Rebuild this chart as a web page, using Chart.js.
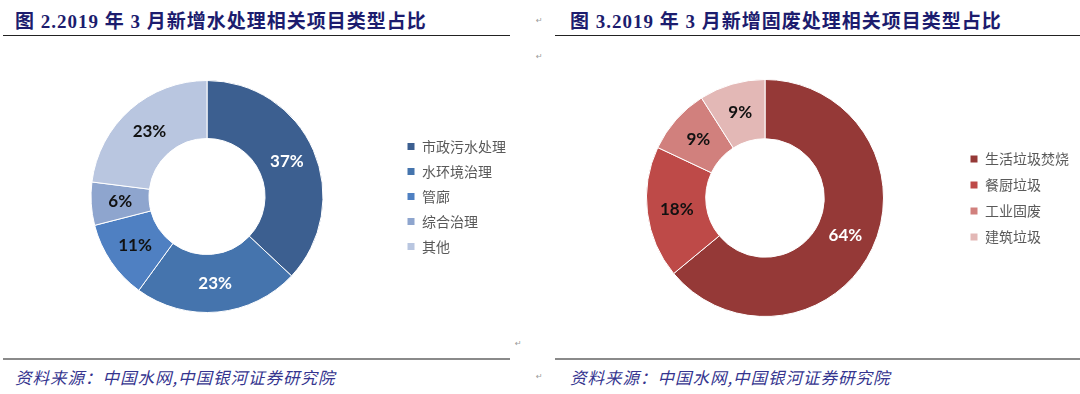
<!DOCTYPE html>
<html>
<head>
<meta charset="utf-8">
<script src="https://cdn.jsdelivr.net/npm/chart.js@4.4.0/dist/chart.umd.min.js"></script>
<style>
  body { margin: 0; width: 1080px; height: 394px; background: #fff; position: relative; overflow: hidden; }
  .titulo { position: absolute; top: 6px; font-family: "Liberation Serif", "Noto Sans CJK SC", serif; font-weight: bold;
            font-size: 19px; color: #1c1c6e; white-space: nowrap; letter-spacing: 1px; }
  .linea { position: absolute; height: 0; }
  .fuente { position: absolute; top: 365px; font-family: "Noto Sans CJK SC", sans-serif; font-style: italic;
            font-size: 16.5px; color: #35358f; white-space: nowrap; letter-spacing: 1px; }
  .marca { position: absolute; font-family: "DejaVu Sans", sans-serif; font-size: 8px; color: #9a9a9a; }
  .caja { position: absolute; top: 40px; height: 300px; }
</style>
</head>
<body>
<div class="titulo" style="left:15px">图 2.2019 年 3 月新增水处理相关项目类型占比</div>
<div class="titulo" style="left:570px">图 3.2019 年 3 月新增固废处理相关项目类型占比</div>
<div class="linea" style="left:3px; width:507px; top:35px; border-top:1.5px solid #222"></div>
<div class="linea" style="left:555px; width:525px; top:35px; border-top:1.5px solid #222"></div>
<div class="linea" style="left:3px; width:507px; top:358px; border-top:2px solid #8a8a8a"></div>
<div class="linea" style="left:555px; width:525px; top:358px; border-top:2px solid #8a8a8a"></div>
<div class="fuente" style="left:15px">资料来源：中国水网,中国银河证券研究院</div>
<div class="fuente" style="left:570px">资料来源：中国水网,中国银河证券研究院</div>
<div class="marca" style="left:536px; top:16px">↵</div>
<div class="marca" style="left:536px; top:52px">↵</div>
<div class="marca" style="left:515px; top:339px">↵</div>
<div class="marca" style="left:536px; top:372px">↵</div>

<div class="caja" style="left:0px; width:530px"><canvas id="graficoAgua"></canvas></div>
<div class="caja" style="left:540px; width:540px"><canvas id="graficoResiduos"></canvas></div>

<script>
// datos del grafico de agua (fig. 2)
const categoriasAgua = ['市政污水处理', '水环境治理', '管廊', '综合治理', '其他'];
const valoresAgua = [37, 23, 11, 6, 23];
const coloresAgua = ['#3c5f90', '#4574ad', '#4f80c2', '#8ea5ce', '#b9c6e0'];
const textoAgua = ['#ffffff', '#ffffff', '#111111', '#111111', '#111111'];

// datos del grafico de residuos solidos (fig. 3)
const categoriasResiduos = ['生活垃圾焚烧', '餐厨垃圾', '工业固废', '建筑垃圾'];
const valoresResiduos = [64, 18, 9, 9];
const coloresResiduos = ['#953937', '#be4a48', '#d1807d', '#e3b8b6'];
const textoResiduos = ['#ffffff', '#111111', '#111111', '#111111'];

// plugin sencillo para escribir los porcentajes dentro de cada sector
const etiquetasPorcentaje = {
    id: 'etiquetasPorcentaje',
    afterDatasetsDraw(chart) {
        const ctx = chart.ctx;
        const meta = chart.getDatasetMeta(0);
        const colores = chart.options.plugins.etiquetasPorcentaje.colores;
        ctx.save();
        ctx.font = 'bold 17px Lato, "Open Sans", sans-serif';
        ctx.textAlign = 'center';
        ctx.textBaseline = 'middle';
        meta.data.forEach((arco, i) => {
            const pos = arco.tooltipPosition();
            ctx.fillStyle = colores[i];
            ctx.fillText(chart.data.datasets[0].data[i] + '%', pos.x, pos.y);
        });
        ctx.restore();
    }
};

function crearDona(idCanvas, etiquetas, valores, colores, coloresTexto, relleno, separacion) {
    const ctx = document.getElementById(idCanvas).getContext('2d');
    return new Chart(ctx, {
        type: 'doughnut',
        data: {
            labels: etiquetas,
            datasets: [{
                data: valores,
                backgroundColor: colores,
                borderColor: '#ffffff',
                borderWidth: 1,
                hoverOffset: 0
            }]
        },
        options: {
            responsive: true,
            maintainAspectRatio: false,
            animation: false,
            events: [],
            cutout: '50%',
            layout: { padding: relleno },
            plugins: {
                tooltip: { enabled: false },
                etiquetasPorcentaje: { colores: coloresTexto },
                legend: {
                    position: 'right',
                    labels: {
                        boxWidth: 8,
                        boxHeight: 8,
                        padding: separacion,
                        color: '#595959',
                        font: { family: '"Noto Sans CJK SC", sans-serif', size: 14 }
                    }
                }
            }
        },
        plugins: [etiquetasPorcentaje]
    });
}

crearDona('graficoAgua', categoriasAgua, valoresAgua, coloresAgua, textoAgua,
    { left: 18, right: 14, top: 40, bottom: 27 }, 11);
crearDona('graficoResiduos', categoriasResiduos, valoresResiduos, coloresResiduos, textoResiduos,
    { left: 32, right: 1, top: 39, bottom: 23 }, 12);
</script>
</body>
</html>
